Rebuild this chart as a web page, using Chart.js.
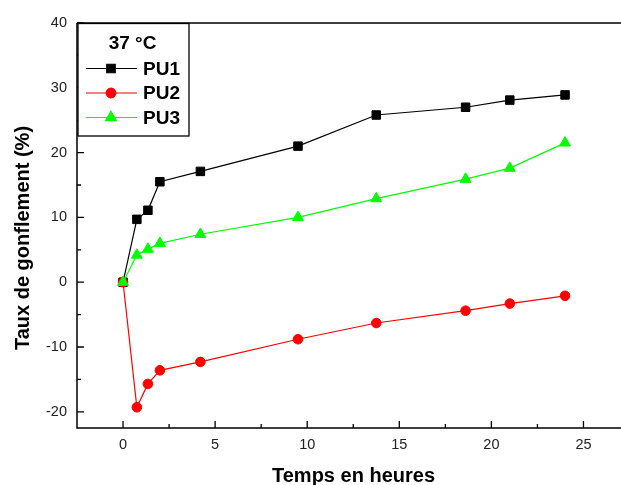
<!DOCTYPE html>
<html>
<head>
<meta charset="utf-8">
<script src="https://cdn.jsdelivr.net/npm/chart.js@4.4.1/dist/chart.umd.min.js"></script>
<style>
    html, body { margin: 0; padding: 0; background: #fff; overflow: hidden; }
    #wrap { width: 621px; height: 485px; overflow: hidden; }
</style>
</head>
<body>
<div id="wrap"><canvas id="chart" width="640" height="485"></canvas></div>
<script>
// ----- Data -----
const hours = [0, 0.75, 1.35, 2, 4.2, 9.5, 13.75, 18.6, 21, 24];
const pu1 = [0, 9.7, 11.1, 15.5, 17.1, 21.0, 25.8, 27.0, 28.1, 28.9];
const pu2 = [0, -19.3, -15.7, -13.6, -12.3, -8.8, -6.3, -4.4, -3.3, -2.1];
const pu3 = [0, 4.2, 5.1, 6.0, 7.4, 10.0, 12.9, 15.9, 17.6, 21.5];

const xTicks = [0, 5, 10, 15, 20, 25];
const xMinorTicks = [2.5, 7.5, 12.5, 17.5, 22.5];
const yTicks = [-20, -10, 0, 10, 20, 30, 40];
const yMinorTicks = [-15, -5, 5, 15, 25, 35];

const legendTitle = '37 °C';
const xTitle = 'Temps en heures';
const yTitle = 'Taux de gonflement (%)';

const FONT = "'Liberation Sans', Arial, sans-serif";

function points(ys) {
    return hours.map((h, i) => ({ x: h, y: ys[i] }));
}

// ----- Frame, inward ticks and axis titles -----
const framePlugin = {
    id: 'frame',
    beforeDatasetsDraw(chart) {
        const { ctx, chartArea: a, scales: { x, y } } = chart;
        ctx.save();
        ctx.strokeStyle = '#000';
        ctx.lineWidth = 1.5;
        ctx.beginPath();
        ctx.moveTo(a.left, a.top);
        ctx.lineTo(a.right, a.top);
        ctx.lineTo(a.right, a.bottom);
        ctx.moveTo(a.left, a.top);
        ctx.lineTo(a.left, a.bottom);
        ctx.lineTo(a.right, a.bottom);
        ctx.stroke();

        ctx.lineWidth = 1.3;
        ctx.beginPath();
        xTicks.forEach(v => { const px = x.getPixelForValue(v); ctx.moveTo(px, a.bottom); ctx.lineTo(px, a.bottom - 7); });
        xMinorTicks.forEach(v => { const px = x.getPixelForValue(v); ctx.moveTo(px, a.bottom); ctx.lineTo(px, a.bottom - 4); });
        yTicks.forEach(v => { const py = y.getPixelForValue(v); ctx.moveTo(a.left, py); ctx.lineTo(a.left + 7, py); });
        yMinorTicks.forEach(v => { const py = y.getPixelForValue(v); ctx.moveTo(a.left, py); ctx.lineTo(a.left + 4, py); });
        ctx.stroke();

        // axis titles
        ctx.fillStyle = '#000';
        ctx.font = 'bold 20px ' + FONT;
        ctx.textAlign = 'center';
        ctx.textBaseline = 'alphabetic';
        ctx.fillText(xTitle, 353.5, 482);
        ctx.translate(29, 238);
        ctx.rotate(-Math.PI / 2);
        ctx.fillText(yTitle, 0, 0);
        ctx.restore();
    }
};

// ----- Legend box -----
const legendPlugin = {
    id: 'boxLegend',
    afterDatasetsDraw(chart) {
        const { ctx } = chart;
        ctx.save();
        ctx.fillStyle = '#fff';
        ctx.fillRect(78, 23.5, 111, 112.5);
        ctx.strokeStyle = '#000';
        ctx.lineWidth = 1.3;
        ctx.strokeRect(78, 23.5, 111, 112.5);

        ctx.fillStyle = '#000';
        ctx.font = 'bold 19px ' + FONT;
        ctx.textAlign = 'center';
        ctx.textBaseline = 'middle';
        ctx.fillText(legendTitle, 132.5, 44);

        const rows = [68.5, 93, 117.5];
        chart.data.datasets.forEach((ds, i) => {
            const ry = rows[i];
            ctx.strokeStyle = ds.borderColor;
            ctx.lineWidth = 1.2;
            ctx.beginPath();
            ctx.moveTo(86, ry);
            ctx.lineTo(137, ry);
            ctx.stroke();
            ctx.fillStyle = ds.pointBackgroundColor;
            ctx.strokeStyle = ds.pointBorderColor;
            Chart.helpers.drawPoint(ctx, {
                pointStyle: ds.pointStyle,
                radius: ds.pointRadius,
                rotation: 0,
                borderWidth: 1
            }, 111, ry);
            ctx.fillStyle = '#000';
            ctx.textAlign = 'left';
            ctx.fillText(ds.label, 143, ry + 1);
        });
        ctx.restore();
    }
};

// ----- Chart -----
const ctx = document.getElementById('chart').getContext('2d');
new Chart(ctx, {
    type: 'line',
    data: {
        datasets: [
            {
                label: 'PU1', data: points(pu1), order: 2,
                borderColor: '#000000', borderWidth: 1.2,
                pointStyle: 'rect', pointRadius: 6,
                pointBackgroundColor: '#000000', pointBorderColor: '#000000', pointBorderWidth: 1
            },
            {
                label: 'PU2', data: points(pu2), order: 1,
                borderColor: '#ff0000', borderWidth: 1.2,
                pointStyle: 'circle', pointRadius: 4.8,
                pointBackgroundColor: '#ff0000', pointBorderColor: '#ff0000', pointBorderWidth: 1
            },
            {
                label: 'PU3', data: points(pu3), order: 0,
                borderColor: '#00ff00', borderWidth: 1.2,
                pointStyle: 'triangle', pointRadius: 6.3,
                pointBackgroundColor: '#00ff00', pointBorderColor: '#00ff00', pointBorderWidth: 1
            }
        ]
    },
    options: {
        responsive: false,
        animation: false,
        events: [],
        layout: { padding: { left: 0, top: 23, right: 10.5, bottom: 0 } },
        plugins: {
            legend: { display: false },
            tooltip: { enabled: false }
        },
        elements: { line: { tension: 0 } },
        scales: {
            x: {
                type: 'linear',
                min: -2.5,
                max: 27.5,
                afterBuildTicks: s => { s.ticks = xTicks.map(v => ({ value: v })); },
                afterFit: s => { s.height = 57; },
                grid: { display: false, drawTicks: false },
                border: { display: false },
                ticks: { padding: 8.5, color: '#222', font: { family: FONT, size: 14.5 } }
            },
            y: {
                min: -22.5,
                max: 40,
                afterBuildTicks: s => { s.ticks = yTicks.map(v => ({ value: v })); },
                afterFit: s => { s.width = 77; },
                grid: { display: false, drawTicks: false },
                border: { display: false },
                ticks: { padding: 10, color: '#222', font: { family: FONT, size: 14.5 } }
            }
        }
    },
    plugins: [framePlugin, legendPlugin]
});
</script>
</body>
</html>
